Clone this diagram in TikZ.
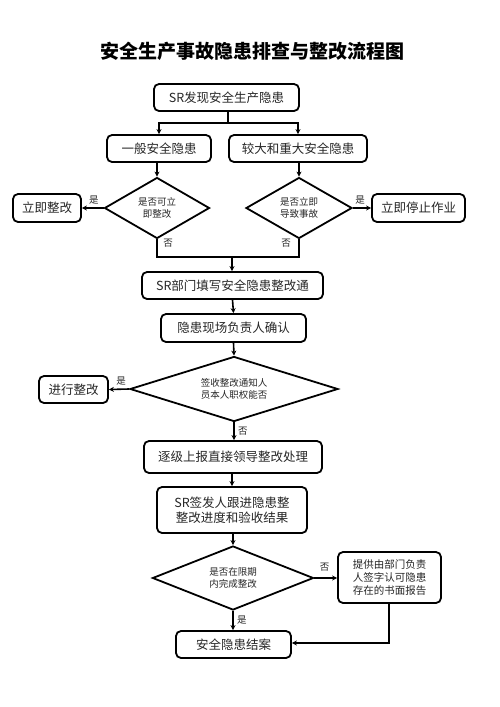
\documentclass[tikz,border=0pt]{standalone}
\usepackage{fontspec}
\setmainfont{Noto Sans CJK SC}
\usetikzlibrary{shapes.geometric,arrows.meta}
\tikzset{
  box/.style={draw, line width=1.8pt, rounded corners=5pt, inner sep=0pt, font=\fontsize{12.5}{15}\selectfont, text=black!85},
  dia/.style={draw, diamond, line width=1.8pt, inner sep=0pt},
  diatext/.style={font=\fontsize{9.5}{12}\selectfont, align=center, text=black!85},
  lab/.style={font=\fontsize{9.5}{11}\selectfont, text=black!85},
  conn/.style={line width=1.6pt},
  arr/.style={line width=1.6pt, -{Stealth[length=5pt,width=5pt]}},
}
\begin{document}
\begin{tikzpicture}[x=1pt,y=-1pt]
\useasboundingbox[fill=white] (0,0) rectangle (500,707);
\node[font=\fontsize{19}{22}\selectfont\bfseries] (title) at (252.5,51) {安全生产事故隐患排查与整改流程图};

\node[box, minimum width=145, minimum height=27] (top) at (226.5,97.5) {SR发现安全生产隐患};
\node[box, minimum width=104, minimum height=27] (b1) at (159,148.5) {一般安全隐患};
\node[box, minimum width=138, minimum height=27] (b2) at (298,148.5) {较大和重大安全隐患};

\node[dia, minimum width=105, minimum height=61] (d1) at (157,208) {};
\node[diatext] (d1t) at (d1) {是否可立\\即整改};
\node[dia, minimum width=106, minimum height=61] (d2) at (299,208) {};
\node[diatext] (d2t) at (d2) {是否立即\\导致事故};

\node[box, minimum width=68, minimum height=28] (l1) at (47,208) {立即整改};
\node[box, minimum width=93, minimum height=28] (r1) at (418.5,208) {立即停止作业};

\node[box, minimum width=181, minimum height=27] (c1) at (232.5,285.5) {SR部门填写安全隐患整改通};
\node[box, minimum width=145, minimum height=28] (c2) at (233.5,328) {隐患现场负责人确认};

\node[dia, minimum width=208, minimum height=65] (d3) at (234,389) {};
\node[diatext] (d3t) at (d3) {签收整改通知人\\员本人职权能否};
\node[box, minimum width=69, minimum height=27] (l3) at (73.5,389.5) {进行整改};

\node[box, minimum width=178, minimum height=32] (c3) at (233,457) {逐级上报直接领导整改处理};
\node[box, minimum width=150, minimum height=46, align=center] (c4) at (232,510) {SR签发人跟进隐患整\\整改进度和验收结果};

\node[dia, minimum width=161, minimum height=64] (d4) at (233,578) {};
\node[diatext] (d4t) at (d4) {是否在限期\\内完成整改};
\node[box, minimum width=103, minimum height=51, align=center, font=\fontsize{10.5}{13}\selectfont] (r4) at (389.5,577.5) {提供由部门负责\\人签字认可隐患\\存在的书面报告};
\node[box, minimum width=115, minimum height=27] (c5) at (233.5,644.5) {安全隐患结案};

% connectors
\coordinate (j1) at (228,123);
\draw[conn] (top.south -| j1) -- (j1);
\draw[arr] (j1) -| (b1.north);
\draw[arr] (j1) -| (b2.north);
\draw[arr] (b1.south -| d1.north) -- (d1.north);
\draw[arr] (b2.south -| d2.north) -- (d2.north);
\draw[arr] (d1.west) -- (l1.east) node[lab, pos=0.45, above] {是};
\draw[arr] (d2.east) -- (r1.west) node[lab, pos=0.4, above] {是};
\coordinate (j2) at (232,257);
\draw[conn] (d1.south) -- (d1.south |- j2) -- (d2.south |- j2) -- (d2.south);
\node[lab] (n1) at (168,243) {否};
\node[lab] (n2) at (286,243) {否};
\draw[arr] (j2) -- (c1.north -| j2);
\draw[arr] (c1.south) -- (c2.north);
\draw[arr] (c2.south) -- (d3.north);
\draw[arr] (d3.west) -- (l3.east) node[lab, pos=0.4, above] {是};
\draw[arr] (d3.south) -- (c3.north -| d3.south) node[lab, midway, right] {否};
\draw[arr] (c3.south -| c4.north) -- (c4.north);
\draw[arr] (c4.south -| d4.north) -- (d4.north);
\draw[arr] (d4.east) -- (r4.west |- d4.east) node[lab, pos=0.45, above=3pt] {否};
\draw[arr] (d4.south) -- (c5.north -| d4.south) node[lab, midway, right] {是};
\coordinate (j3) at (389,643);
\draw[arr] (r4.south -| j3) -- (j3) -- (c5.east |- j3);
\end{tikzpicture}
\end{document}
